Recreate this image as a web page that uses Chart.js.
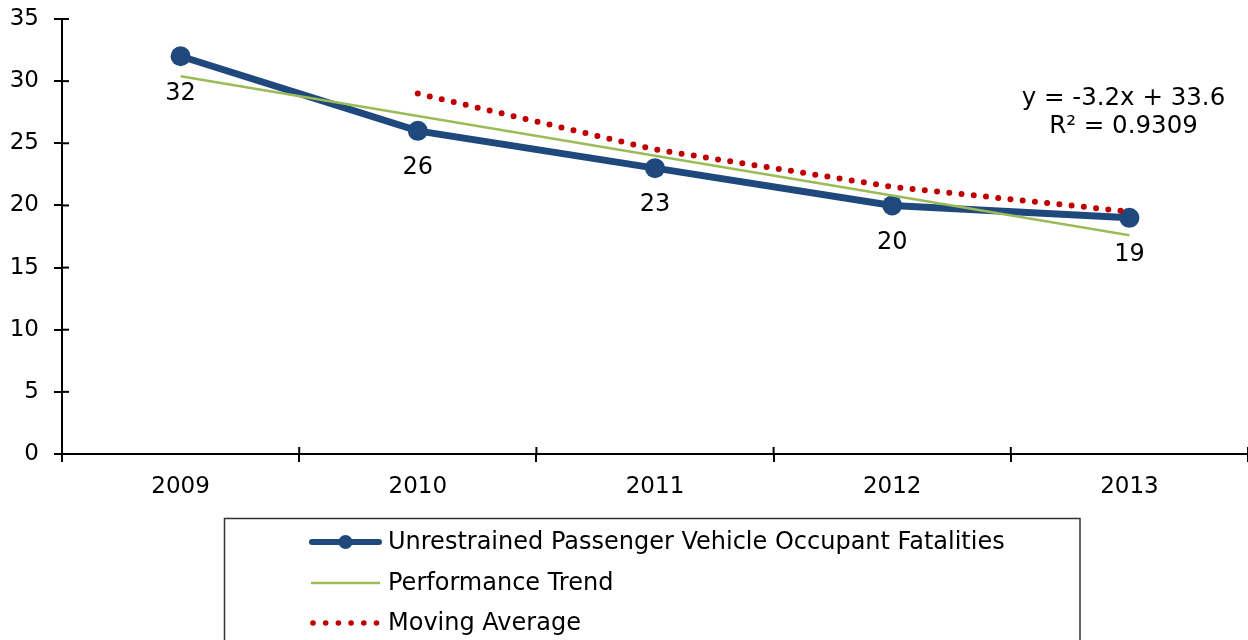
<!DOCTYPE html>
<html>
<head>
<meta charset="utf-8">
<script src="https://cdn.jsdelivr.net/npm/chart.js@4/dist/chart.umd.min.js"></script>
<style>
html,body{margin:0;padding:0;background:#fff;}
#wrap{width:1248px;height:640px;position:relative;}
</style>
</head>
<body>
<div id="wrap"><canvas id="c" width="1248" height="640"></canvas></div>
<script>
const years = ['2009','2010','2011','2012','2013'];
const fatalities = [32, 26, 23, 20, 19];
const trend = [30.4, 27.2, 24.0, 20.8, 17.6];
const movingAvg = [null, 29, 24.5, 21.5, 19.5];
const equationLines = ['y = -3.2x + 33.6', 'R\u00B2 = 0.9309'];
const seriesNames = ['Unrestrained Passenger Vehicle Occupant Fatalities', 'Performance Trend', 'Moving Average'];

const FONT = "'DejaVu Sans', Verdana, sans-serif";
const BLUE = '#1F497D', GREEN = '#9BBB59', RED = '#C00000';

const crossTicks = {
  id: 'crossTicks',
  afterDraw(chart) {
    const ctx = chart.ctx, x = chart.scales.x, y = chart.scales.y;
    ctx.save();
    ctx.strokeStyle = '#000'; ctx.lineWidth = 2;
    y.ticks.forEach(t => {
      const py = y.getPixelForValue(t.value);
      ctx.beginPath(); ctx.moveTo(x.left, py); ctx.lineTo(x.left + 7, py); ctx.stroke();
    });
    for (let i = 0; i <= years.length; i++) {
      const px = x.getPixelForValue(i - 0.5);
      ctx.beginPath(); ctx.moveTo(px, y.bottom); ctx.lineTo(px, y.bottom - 7); ctx.stroke();
    }
    const meta = chart.getDatasetMeta(0);
    ctx.fillStyle = '#000'; ctx.font = '24px ' + FONT;
    ctx.textAlign = 'center'; ctx.textBaseline = 'middle';
    meta.data.forEach((p, i) => {
      ctx.fillText(String(fatalities[i]), p.x, p.y + 37);
    });
    ctx.font = '24.5px ' + FONT;
    const ex = x.getPixelForValue(3.975);
    ctx.fillText(equationLines[0], ex, y.getPixelForValue(28.6));
    ctx.fillText(equationLines[1], ex, y.getPixelForValue(26.35));
    const lx = 224.5, ly = 518.5;
    ctx.lineWidth = 1.5; ctx.strokeStyle = '#333';
    ctx.strokeRect(lx, ly, 1080 - lx, 160);
    ctx.textAlign = 'left';
    const rows = [542, 583, 623];
    ctx.strokeStyle = BLUE; ctx.lineWidth = 6; ctx.lineCap = 'round';
    ctx.beginPath(); ctx.moveTo(312, rows[0]); ctx.lineTo(379, rows[0]); ctx.stroke();
    ctx.fillStyle = BLUE; ctx.beginPath(); ctx.arc(345.5, rows[0], 7, 0, Math.PI * 2); ctx.fill();
    ctx.strokeStyle = GREEN; ctx.lineWidth = 2.5; ctx.lineCap = 'butt';
    ctx.beginPath(); ctx.moveTo(311, rows[1]); ctx.lineTo(380, rows[1]); ctx.stroke();
    ctx.fillStyle = RED;
    for (let k = 0; k < 6; k++) { ctx.beginPath(); ctx.arc(313 + k * 12.7, rows[2], 2.8, 0, Math.PI * 2); ctx.fill(); }
    ctx.fillStyle = '#000';
    ctx.font = '24px ' + FONT;
    seriesNames.forEach((n, i) => ctx.fillText(n, 388, rows[i] + 1));
    ctx.restore();
  }
};

new Chart(document.getElementById('c'), {
  type: 'line',
  data: {
    labels: years,
    datasets: [
      { label: seriesNames[0], data: fatalities, borderColor: BLUE, backgroundColor: BLUE,
        borderWidth: 7, pointRadius: 10, pointHoverRadius: 10, pointBackgroundColor: BLUE,
        pointBorderWidth: 0, tension: 0, order: 2 },
      { label: seriesNames[1], data: trend, borderColor: GREEN, borderWidth: 2.5,
        pointRadius: 0, tension: 0, order: 1 },
      { label: seriesNames[2], data: movingAvg, borderColor: RED, borderWidth: 6,
        borderDash: [0, 12.3], borderCapStyle: 'round', pointRadius: 0, tension: 0, order: 0 }
    ]
  },
  options: {
    responsive: false, animation: false,
    layout: { autoPadding: false, padding: { top: 19, right: 0, left: 0, bottom: 126 } },
    plugins: { legend: { display: false }, tooltip: { enabled: false } },
    scales: {
      x: {
        type: 'category', offset: true,
        grid: { offset: true, drawOnChartArea: false, drawTicks: true, tickLength: 8, color: '#000', lineWidth: 2 },
        border: { display: true, color: '#000', width: 2 },
        ticks: { color: '#000', font: { family: FONT, size: 23 }, padding: 11, maxRotation: 0 },
        afterFit(s) { s.height = 60; s.paddingLeft = 0; s.paddingRight = 0; }
      },
      y: {
        min: 0, max: 35,
        grid: { drawOnChartArea: false, drawTicks: true, tickLength: 8, color: '#000', lineWidth: 2 },
        border: { display: true, color: '#000', width: 2 },
        ticks: { stepSize: 5, color: '#000', font: { family: FONT, size: 23 }, padding: 15 },
        afterFit(s) { s.width = 62; s.paddingTop = 0; s.paddingBottom = 0; }
      }
    }
  },
  plugins: [crossTicks]
});
</script>
</body>
</html>
